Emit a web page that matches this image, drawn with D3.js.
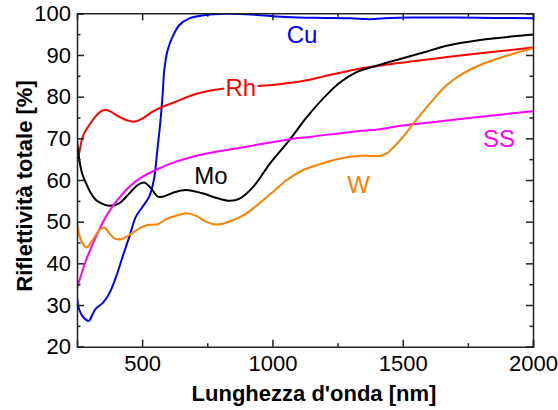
<!DOCTYPE html>
<html>
<head>
<meta charset="utf-8">
<script src="https://cdn.jsdelivr.net/npm/d3@7"></script>
<style>
  html, body { margin: 0; padding: 0; background: #fff; }
  svg { display: block; font-family: Arial, "Liberation Sans", sans-serif; }
</style>
</head>
<body>
<svg id="chart" width="558" height="410"></svg>
<script>
// Total reflectance spectra [%] versus wavelength [nm]
const cuNm = [250,259,275,295,310,323,349,374,400,425,451,476,502,527,545,558,570,579,585,598,617,643,681,745,822,900,1000,1100,1200,1300,1374,1450,1550,1700,1850,2000];
const cuR  = [32.0,28.8,27.0,26.2,27.8,29.2,30.5,32.8,36.8,41.6,46.4,51.2,53.6,56.0,60.0,67.0,74.0,80.8,86.4,91.2,94.4,97.2,98.8,99.6,99.9,99.8,99.3,99.0,98.9,98.8,98.6,98.9,99.0,99.0,98.9,98.8];

const rhNm = [250,260,272,297,323,345,361,380,400,438,470,502,540,579,630,694,758,809,880,952,1029,1121,1195,1323,1451,1605,1797,1900,2000];
const rhR  = [64.0,67.0,70.4,73.2,75.4,76.6,76.8,76.4,75.6,74.4,74.0,74.8,76.4,77.6,78.8,80.4,81.4,81.9,82.3,82.6,83.0,83.8,84.8,86.6,87.8,89.0,90.4,91.1,91.8];

const moNm = [250,259,270,285,300,323,350,374,412,451,483,508,534,560,579,617,668,732,790,837,876,927,991,1055,1080,1131,1195,1259,1323,1400,1477,1579,1669,1797,2000];
const moR  = [69.6,64.8,61.5,59.2,57.2,55.2,54.2,53.8,54.4,56.8,58.8,59.4,58.0,56.0,56.0,56.9,57.6,56.8,55.6,55.0,55.6,58.4,64.0,68.8,70.8,75.0,79.6,83.4,85.9,87.4,88.8,90.6,92.2,93.6,94.9];

const ssNm = [250,285,323,361,400,451,502,566,630,694,783,900,1067,1150,1310,1413,1490,1605,1800,2000];
const ssR  = [34.0,40.8,46.4,51.2,54.8,58.4,60.8,62.8,64.4,65.6,66.8,68.0,69.8,70.4,71.6,72.2,73.0,73.8,75.2,76.5];

const wNm = [250,265,285,310,336,355,374,393,419,451,489,521,560,592,630,668,707,745,783,815,850,901,965,1003,1055,1118,1183,1247,1336,1413,1439,1464,1502,1541,1605,1669,1732,1797,1899,2000];
const wR  = [49.8,45.6,43.8,45.6,48.0,48.6,47.2,46.0,45.8,46.8,48.4,49.2,49.4,50.6,51.4,52.0,51.4,50.0,49.3,49.6,50.4,52.0,55.2,57.2,60.0,62.4,63.8,65.0,65.8,65.8,66.4,67.8,70.4,73.6,78.4,82.8,85.6,87.6,89.8,91.6];

const xMajor = [500, 1000, 1500, 2000];
const xMinor = [750, 1250, 1750];
const yMajor = [20, 30, 40, 50, 60, 70, 80, 90, 100];
const yMinor = [25, 35, 45, 55, 65, 75, 85, 95];

const seriesNames  = ["Cu", "Rh", "Mo", "SS", "W"];
const seriesColors = ["#0000ff", "#ff0000", "#000000", "#ff00ff", "#ff8000"];
// label anchor points in data space (left edge / baseline)
const labelNm = [1055, 820, 700, 1808, 1287];
const labelR  = [92.8, 80.1, 59.0, 67.8, 56.9];

const W = 558, H = 410;
const margin = { top: 13.3, right: 25, bottom: 63.3, left: 77 };
const iw = W - margin.left - margin.right;
const ih = H - margin.top - margin.bottom;

const svg = d3.select("#chart");
const g = svg.append("g").attr("transform", `translate(${margin.left},${margin.top})`);

const x = d3.scaleLinear().domain([250, 2000]).range([0, iw]);
const y = d3.scaleLinear().domain([20, 100]).range([ih, 0]);

const series = [
  { name: "Cu", nm: cuNm, r: cuR },
  { name: "Rh", nm: rhNm, r: rhR },
  { name: "Mo", nm: moNm, r: moR },
  { name: "SS", nm: ssNm, r: ssR },
  { name: "W",  nm: wNm,  r: wR }
];

const line = d3.line()
  .x(d => x(d[0]))
  .y(d => y(d[1]))
  .curve(d3.curveCatmullRom.alpha(0.5));

g.append("clipPath").attr("id", "plotclip")
  .append("rect").attr("width", iw).attr("height", ih);

const lines = g.append("g").attr("clip-path", "url(#plotclip)");
series.forEach((s, i) => {
  const pts = s.nm.map((v, k) => [v, s.r[k]]);
  lines.append("path")
    .datum(pts)
    .attr("fill", "none")
    .attr("stroke", seriesColors[i])
    .attr("stroke-width", 2)
    .attr("stroke-linejoin", "round")
    .attr("d", line);
});

// Series labels
const labels = g.append("g").attr("font-size", 24);
seriesNames.forEach((name, i) => {
  const t = labels.append("text")
    .attr("x", x(labelNm[i]))
    .attr("y", y(labelR[i]))
    .attr("fill", seriesColors[i])
    .text(name);
  if (name === "Rh") {
    const bb = t.node().getBBox();
    labels.insert("rect", "text")
      .attr("x", bb.x - 1.5).attr("y", bb.y + 3)
      .attr("width", bb.width + 3).attr("height", bb.height - 6)
      .attr("fill", "#fff");
  }
});

// Axes: ticks point inward on all four sides
const axisColor = "#222";
function styleAxis(sel) {
  sel.select(".domain").attr("stroke", axisColor).attr("stroke-width", 1.5);
  sel.selectAll(".tick line").attr("stroke", axisColor).attr("stroke-width", 1.5);
  sel.selectAll(".tick text").attr("fill", "#000").attr("font-size", 22)
    .attr("font-family", "Arial, 'Liberation Sans', sans-serif");
}

g.append("g").attr("transform", `translate(0,${ih})`)
  .call(d3.axisBottom(x).tickValues(xMajor).tickSize(-7).tickPadding(9).tickFormat(d3.format("d")))
  .call(styleAxis);
g.append("g").attr("transform", `translate(0,${ih})`)
  .call(d3.axisBottom(x).tickValues(xMinor).tickSize(-3.5).tickFormat(""))
  .call(styleAxis).select(".domain").remove();

g.append("g")
  .call(d3.axisLeft(y).tickValues(yMajor).tickSize(-7).tickPadding(6).tickFormat(d3.format("d")))
  .call(styleAxis);
g.append("g")
  .call(d3.axisLeft(y).tickValues(yMinor).tickSize(-3.5).tickFormat(""))
  .call(styleAxis).select(".domain").remove();

g.append("g")
  .call(d3.axisTop(x).tickValues(xMajor).tickSize(-7).tickFormat(""))
  .call(styleAxis);
g.append("g")
  .call(d3.axisTop(x).tickValues(xMinor).tickSize(-3.5).tickFormat(""))
  .call(styleAxis).select(".domain").remove();

g.append("g").attr("transform", `translate(${iw},0)`)
  .call(d3.axisRight(y).tickValues(yMajor).tickSize(-7).tickFormat(""))
  .call(styleAxis);
g.append("g").attr("transform", `translate(${iw},0)`)
  .call(d3.axisRight(y).tickValues(yMinor).tickSize(-3.5).tickFormat(""))
  .call(styleAxis).select(".domain").remove();

// Axis titles
svg.append("text")
  .attr("x", 314)
  .attr("y", 401)
  .attr("text-anchor", "middle")
  .attr("font-size", 22)
  .attr("font-weight", "bold")
  .text("Lunghezza d'onda [nm]");

svg.append("text")
  .attr("transform", `translate(32,${margin.top + ih / 2 + 6}) rotate(-90)`)
  .attr("text-anchor", "middle")
  .attr("font-size", 22)
  .attr("font-weight", "bold")
  .text("Riflettività totale [%]");
</script>
</body>
</html>
